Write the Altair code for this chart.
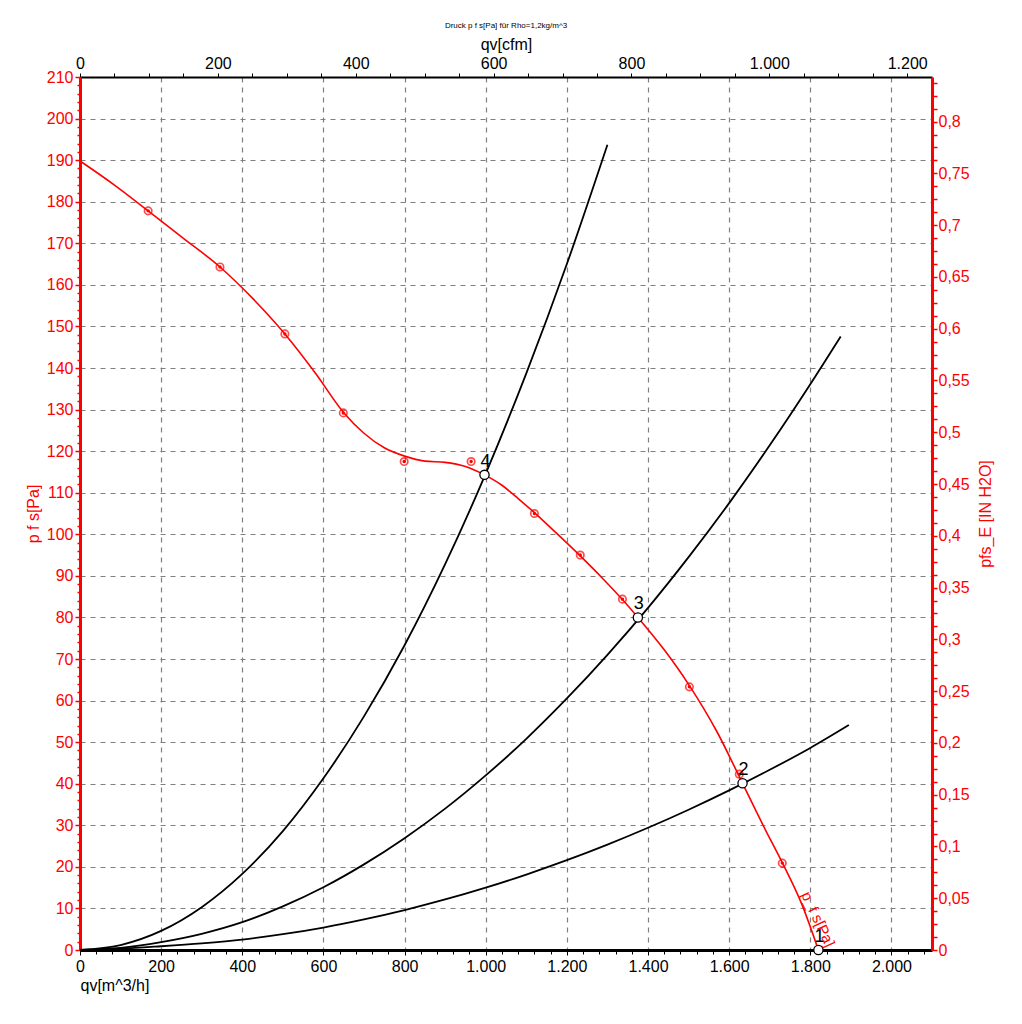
import altair as alt
import pandas as pd

FONT = "Liberation Sans"
RED = "#ff0000"

# ---- fan curve p_fs [Pa] over qv [m^3/h] (red, smooth) ----
fan_q = [0, 85, 168, 255, 345, 425, 505, 580, 648, 700, 750, 800, 850, 900, 950,
         997, 1040, 1080, 1120, 1175, 1233, 1290, 1337, 1375, 1440, 1502, 1570,
         1633, 1690, 1731, 1780, 1820]
fan_p = [189.8, 184.0, 177.8, 171.2, 164.3, 156.8, 148.2, 138.8, 129.5, 124.3, 120.8,
         118.8, 117.6, 117.3, 116.3, 114.3, 111.8, 108.6, 105.2, 100.2, 94.8, 89.2,
         84.3, 80.0, 72.2, 63.6, 52.5, 40.1, 28.8, 21.0, 10.8, 0.0]

# ---- measured points (red markers) ----
meas_q = [168, 345, 505, 649, 799, 964, 1120, 1233, 1337, 1502, 1625, 1731]
meas_p = [177.8, 164.3, 148.2, 129.2, 117.5, 117.5, 105.0, 95.0, 84.4, 63.3, 42.3, 20.9]

# ---- system curves (black) ----
sys4_q = [0, 100, 200, 300, 400, 500, 600, 700, 800, 900, 1000, 1100, 1200, 1300]
sys4_p = [0, 1.2, 4.6, 10.3, 18.3, 28.6, 41.3, 56.2, 73.3, 92.8, 114.6, 138.7, 165.0, 193.7]
sys3_q = [0, 100, 200, 300, 400, 500, 600, 700, 800, 900, 1000, 1100, 1200, 1300, 1400,
          1500, 1600, 1700, 1800, 1875]
sys3_p = [0, 0.5, 1.9, 3.9, 6.7, 10.5, 15.1, 20.6, 26.9, 34.0, 42.0, 50.8, 60.5, 71.0,
          82.3, 94.5, 107.5, 121.4, 136.1, 147.6]
sys2_q = [0, 100, 200, 300, 400, 500, 600, 700, 800, 900, 1000, 1100, 1200, 1300, 1400,
          1500, 1600, 1700, 1800, 1895]
sys2_p = [0, 0.3, 0.9, 1.6, 2.5, 3.8, 5.4, 7.35, 9.6, 12.15, 15.0, 18.15, 21.6, 25.35,
          29.4, 33.75, 38.4, 43.35, 48.6, 54.1]

# ---- operating points ----
op_q = [1820, 1633, 1375, 997]
op_p = [0.0, 40.1, 80.0, 114.3]
op_label = ["1", "2", "3", "4"]

curve_label = ["p_f s[Pa]"]
curve_label_q = [1819]
curve_label_p = [7.4]

X_MAX = 2100
Y_MAX = 210
CFM_MAX = X_MAX / 1.699
INH2O_MAX = Y_MAX / 249.089

fan_df = pd.DataFrame({"q": fan_q, "p": fan_p})
meas_df = pd.DataFrame({"q": meas_q, "p": meas_p})
sys_df = pd.concat([
    pd.DataFrame({"q": sys4_q, "p": sys4_p, "c": "4"}),
    pd.DataFrame({"q": sys3_q, "p": sys3_p, "c": "3"}),
    pd.DataFrame({"q": sys2_q, "p": sys2_p, "c": "2"}),
])
op_df = pd.DataFrame({"q": op_q, "p": op_p, "t": op_label})
lab_df = pd.DataFrame({"q": curve_label_q, "p": curve_label_p, "t": curve_label})

x_axis = alt.Axis(
    orient="bottom", values=list(range(0, X_MAX, 40)),
    labelExpr="datum.value % 200 === 0 ? replace(format(datum.value, ','), ',', '.') : ''",
    labelOverlap=False, labelFlush=False, labelFont=FONT, labelFontSize=16,
    labelColor="black", labelPadding=3,
    tickColor="black", tickWidth=1,
    tickSize={"condition": {"test": "datum.value % 200 === 0", "value": 5}, "value": 4},
    domainColor="black", domainWidth=3,
    grid=True, gridColor="#808080", gridDash=[5, 5], gridWidth=1.2,
    gridOpacity={"condition": {"test": "datum.value % 200 === 0 && datum.value > 0", "value": 1}, "value": 0},
    title="qv[m^3/h]", titleFont=FONT, titleFontSize=16, titleFontWeight="normal",
    titleColor="black", titleAnchor="start", titlePadding=3,
)
y_axis = alt.Axis(
    orient="left", values=list(range(0, Y_MAX + 1, 2)),
    labelExpr="datum.value % 10 === 0 ? datum.label : ''",
    labelOverlap=False, labelFlush=False, labelFont=FONT, labelFontSize=16,
    labelColor=RED, labelPadding=2,
    tickColor=RED, tickWidth=1.5,
    tickSize={"condition": {"test": "datum.value % 10 === 0", "value": 5}, "value": 3},
    domainColor=RED, domainWidth=3,
    grid=True, gridColor="#808080", gridDash=[5, 5], gridWidth=1.2,
    gridOpacity={"condition": {"test": "datum.value % 10 === 0 && datum.value > 0 && datum.value < 210", "value": 1}, "value": 0},
    title="p f s[Pa]", titleFont=FONT, titleFontSize=16, titleFontWeight="normal",
    titleColor=RED, titlePadding=5,
)
top_axis = alt.Axis(
    orient="top", values=list(range(0, 1201, 50)),
    labelExpr="datum.value % 200 === 0 ? replace(format(datum.value, ','), ',', '.') : ''",
    labelOverlap=False, labelFlush=False, labelFont=FONT, labelFontSize=16,
    labelColor="black", labelPadding=2,
    tickColor="black", tickWidth=1, tickSize=4,
    domainColor="black", domainWidth=2, grid=False,
    title="qv[cfm]", titleFont=FONT, titleFontSize=16, titleFontWeight="normal",
    titleColor="black", titlePadding=3,
)
right_vals = [i * 0.0125 for i in range(0, 68)]
right_axis = alt.Axis(
    orient="right", values=right_vals,
    labelExpr="abs(datum.value * 20 - round(datum.value * 20)) < 0.000001 ? replace(format(datum.value, '.2~f'), '.', ',') : ''",
    labelOverlap=False, labelFlush=False, labelFont=FONT, labelFontSize=16,
    labelColor=RED, labelPadding=1,
    tickColor=RED, tickWidth=1.5, tickSize=5,
    domainColor=RED, domainWidth=3, grid=False,
    title="pfs_E [IN H2O]", titleFont=FONT, titleFontSize=16, titleFontWeight="normal",
    titleColor=RED, titleAngle=270, titleBaseline="top", titlePadding=8,
)

xs = alt.Scale(domain=[0, X_MAX], nice=False)
ys = alt.Scale(domain=[0, Y_MAX], nice=False)


def X():
    return alt.X("q:Q", scale=xs, axis=x_axis)


def Y():
    return alt.Y("p:Q", scale=ys, axis=y_axis)


sys_lines = alt.Chart(sys_df).mark_line(color="black", strokeWidth=1.8, interpolate="monotone").encode(
    x=X(), y=Y(), detail="c:N")
fan_line = alt.Chart(fan_df).mark_line(color=RED, strokeWidth=1.6, interpolate="monotone").encode(
    x=X(), y=Y())
meas_ring = alt.Chart(meas_df).mark_point(shape="circle", filled=False, color=RED, size=55,
                                           strokeWidth=1.7).encode(x=X(), y=Y())
meas_dot = alt.Chart(meas_df).mark_point(shape="circle", filled=True, color=RED, size=12,
                                          opacity=1).encode(x=X(), y=Y())
op_pts = alt.Chart(op_df).mark_point(shape="circle", filled=True, fill="white", stroke="black",
                                      strokeWidth=1.3, size=85, opacity=1).encode(x=X(), y=Y())
op_text = alt.Chart(op_df).mark_text(font=FONT, fontSize=18, color="black", dy=-13, dx=1).encode(
    x=X(), y=Y(), text="t:N")
curve_text = alt.Chart(lab_df).mark_text(font=FONT, fontSize=15, color=RED, angle=65,
                                         align="center", baseline="middle").encode(
    x=X(), y=Y(), text="t:N")

main = alt.layer(sys_lines, fan_line, meas_ring, meas_dot, op_pts, op_text, curve_text)

sec = alt.Chart(pd.DataFrame({"cfm": [0.0], "inh2o": [0.0]})).mark_point(opacity=0).encode(
    x=alt.X("cfm:Q", scale=alt.Scale(domain=[0, CFM_MAX], nice=False), axis=top_axis),
    y=alt.Y("inh2o:Q", scale=alt.Scale(domain=[0, INH2O_MAX], nice=False), axis=right_axis),
)

chart = alt.layer(main, sec).resolve_scale(x="independent", y="independent").properties(
    width=852, height=873,
    title=alt.TitleParams("Druck p f s[Pa] für Rho=1,2kg/m^3", font=FONT, fontSize=8,
                          fontWeight="normal", color="black", anchor="middle", offset=6),
    autosize=alt.AutoSizeParams(type="none"),
    padding={"left": 72, "top": 69, "right": 80, "bottom": 50},
).configure_view(stroke=None)

chart.save("out.html", embed_options={"renderer": "svg", "actions": False})
